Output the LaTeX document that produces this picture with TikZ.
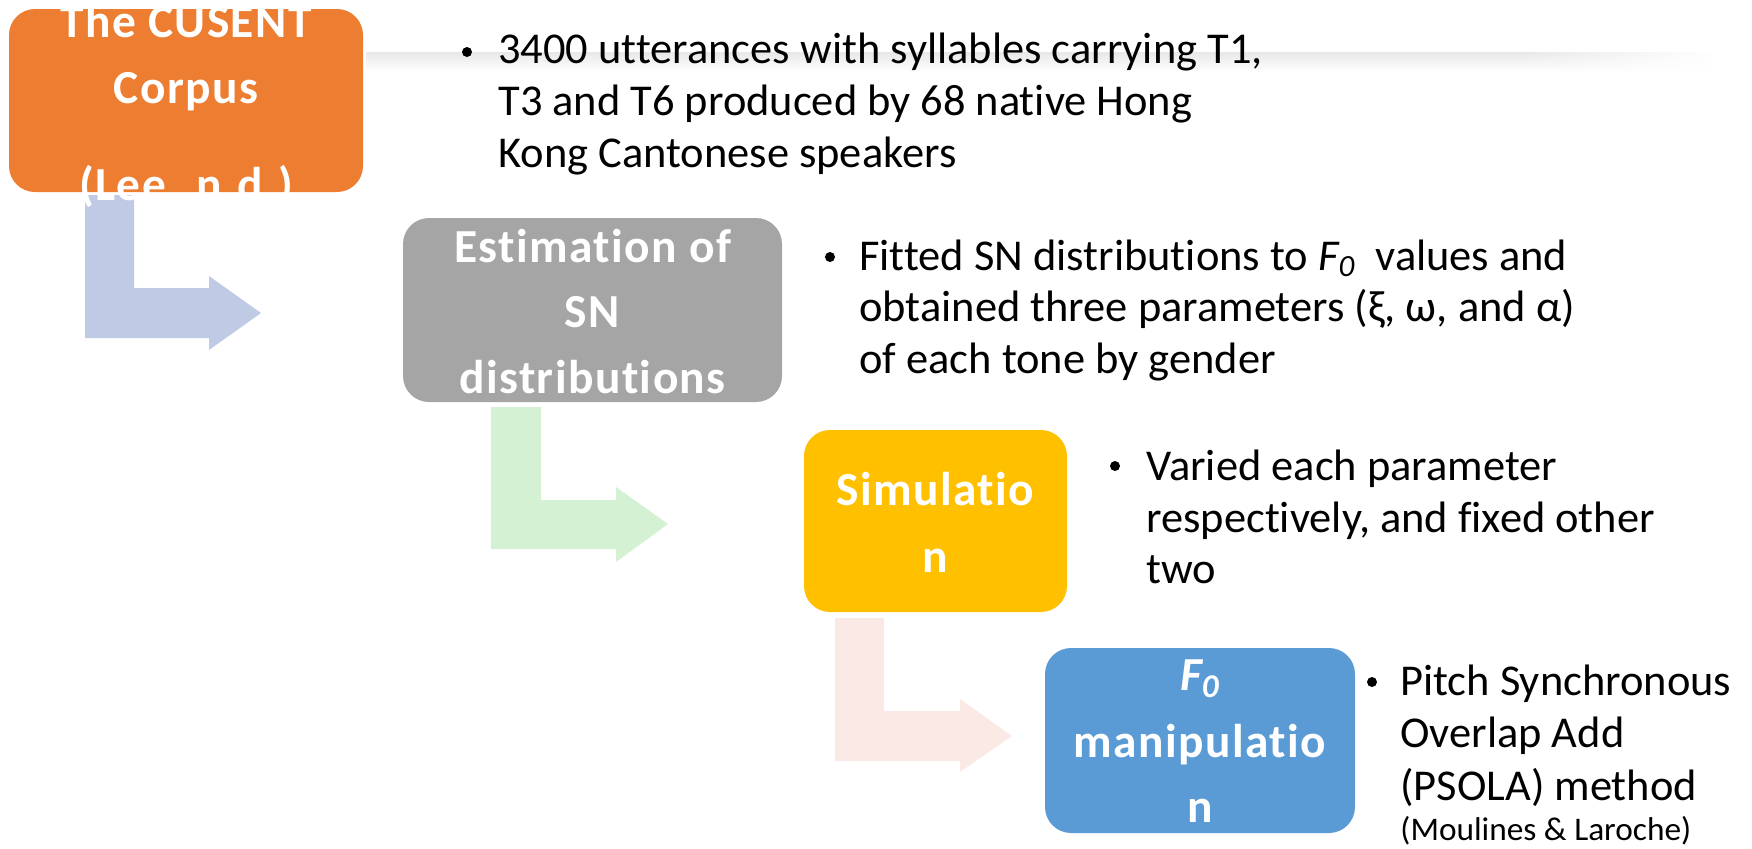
\documentclass[tikz,border=0pt]{standalone}
\usepackage{fontspec}
\setmainfont[Ligatures={NoCommon},FakeStretch=1.01]{Carlito}
\newfontfamily\boxfont[LetterSpace=3,Ligatures={NoCommon}]{Carlito}
\usetikzlibrary{fadings}
\definecolor{corpusorange}{HTML}{ED7D31}
\definecolor{estgray}{HTML}{A5A5A5}
\definecolor{simyellow}{HTML}{FFC000}
\definecolor{manblue}{HTML}{5B9BD5}
\definecolor{arrowblue}{HTML}{BFCAE5}
\definecolor{arrowgreen}{HTML}{D4F1D4}
\definecolor{arrowpink}{HTML}{FAE9E5}
\tikzset{
  stage/.style={rounded corners=13pt, inner sep=0pt, draw=none},
  boxtext/.style={anchor=base, text=white, inner sep=0pt,
    font=\boxfont\bfseries\fontsize{23.7pt}{28pt}\selectfont},
  bullettext/.style={anchor=base west, inner sep=0pt, text=black,
    font=\fontsize{22pt}{26pt}\selectfont},
  smalltext/.style={anchor=base west, inner sep=0pt, text=black,
    font=\fontsize{16.5pt}{20pt}\selectfont},
  dot/.style={circle, fill=black, inner sep=0pt, minimum size=5pt},
}
\begin{document}
\begin{tikzpicture}[x=0.5pt,y=-0.5pt]
\useasboundingbox (0,0) rectangle (1752,848);
% faint shadow strip
\shade[top color=black!9, bottom color=white] (366,52) rectangle (1712,72);
\fill[white, path fading=west] (1520,50) rectangle (1714,74);
% block arrows
\fill[arrowblue] (85,195) -- (134,195) -- (134,288) -- (209,288) -- (209,276) -- (261,313) -- (209,350) -- (209,338) -- (85,338) -- cycle;
\fill[arrowgreen] (491,407) -- (541,407) -- (541,500) -- (616,500) -- (616,487) -- (668,524) -- (616,562) -- (616,549) -- (491,549) -- cycle;
\fill[arrowpink] (835,618) -- (884,618) -- (884,711) -- (960,711) -- (960,699) -- (1012,736) -- (960,772) -- (960,761) -- (835,761) -- cycle;
% boxes
\node[stage, fill=corpusorange, minimum width=177pt, minimum height=91.5pt] (corpus) at (186,100.5) {};
\node[stage, fill=estgray, minimum width=189.5pt, minimum height=92pt] (est) at (592.5,310) {};
\node[stage, fill=simyellow, minimum width=131.5pt, minimum height=91pt] (sim) at (935.5,521) {};
\node[stage, fill=manblue, minimum width=155pt, minimum height=92.5pt] (man) at (1200,740.5) {};
% box texts
\node[boxtext] (c1) at (186,37) {The CUSENT};
\node[boxtext] (c2) at (186,103) {Corpus};
\node[boxtext] (c3) at (186,200) {(Lee. n.d.)};
\node[boxtext] (e1) at (592.5,262) {Estimation of};
\node[boxtext] (e2) at (592.5,327) {SN};
\node[boxtext] (e3) at (592.5,393) {distributions};
\node[boxtext] (s1) at (935.5,505) {Simulatio};
\node[boxtext] (s2) at (935.5,572) {n};
\node[boxtext] (m1) at (1200,690) {\textit{F\textsubscript{0}}};
\node[boxtext] (m2) at (1200,757) {manipulatio};
\node[boxtext] (m3) at (1200,822) {n};
% bullet 1
\node[dot] (d1) at (467,52) {};
\node[bullettext] (b11) at (498,63) {3400 utterances with syllables carrying T1,};
\node[bullettext] (b12) at (498,115) {T3 and T6 produced by 68 native Hong};
\node[bullettext] (b13) at (498,167) {Kong Cantonese speakers};
% bullet 2
\node[dot] (d2) at (830,257) {};
\node[bullettext] (b21) at (859,270) {Fitted SN distributions to \textit{F\textsubscript{0}}\ \ values and};
\node[bullettext] (b22) at (859,321) {obtained three parameters (ξ, ω, and α)};
\node[bullettext] (b23) at (859,373) {of each tone by gender};
% bullet 3
\node[dot] (d3) at (1115,466) {};
\node[bullettext] (b31) at (1146,480) {Varied each parameter};
\node[bullettext] (b32) at (1146,532) {respectively, and fixed other};
\node[bullettext] (b33) at (1146,583) {two};
% bullet 4
\node[dot] (d4) at (1372,682) {};
\node[bullettext] (b41) at (1400,695) {Pitch Synchronous};
\node[bullettext] (b42) at (1400,747) {Overlap Add};
\node[bullettext] (b43) at (1400,800) {(PSOLA) method};
\node[smalltext] (b44) at (1400,840) {(Moulines \& Laroche)};
\end{tikzpicture}
\end{document}
